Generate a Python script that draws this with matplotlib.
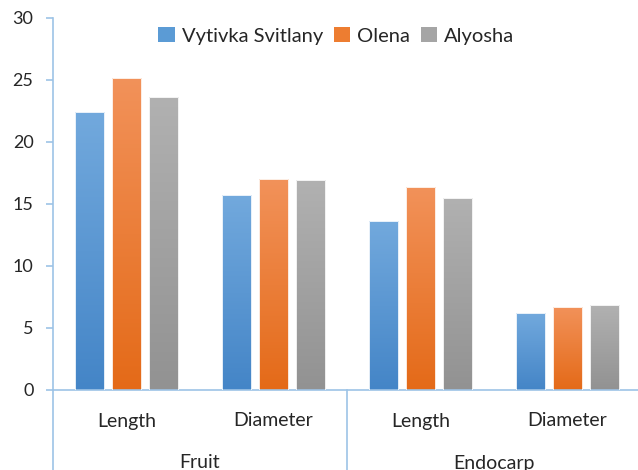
import numpy as np
import matplotlib.pyplot as plt
from matplotlib.colors import LinearSegmentedColormap
from matplotlib.lines import Line2D
from matplotlib.patches import Patch

# data
groups = ["Fruit", "Endocarp"]
measures = ["Length", "Diameter", "Length", "Diameter"]
series = ["Vytivka Svitlany", "Olena", "Alyosha"]
vytivka = [22.4, 15.7, 13.6, 6.2]
olena = [25.2, 17.0, 16.4, 6.7]
alyosha = [23.6, 16.9, 15.5, 6.85]

values = [vytivka, olena, alyosha]
grad = [("#4485C7", "#72A9DD"), ("#E46A18", "#F2925A"), ("#929292", "#B1B1B1")]
solid = ["#5B9BD5", "#ED7D31", "#A5A5A5"]
axis_col = "#9DC3E6"
text_col = "#262626"

plt.rcParams['font.family'] = ['Lato', 'DejaVu Sans']

fig = plt.figure(figsize=(6.38, 4.70), dpi=100)
ax = fig.add_axes([53 / 638, 80 / 470, 588 / 638, 372 / 470])

x = np.arange(len(measures))
width = 0.2
step = 0.25
grad_img = np.linspace(0, 1, 256).reshape(-1, 1)

for i, vals in enumerate(values):
    cmap = LinearSegmentedColormap.from_list("g%d" % i, grad[i])
    bars = ax.bar(x + (i - 1) * step, vals, width, color="none",
                  edgecolor="white", linewidth=0.6, zorder=3)
    for b in bars:
        x0, y0 = b.get_x(), b.get_y()
        im = ax.imshow(grad_img, cmap=cmap, origin="lower", aspect="auto",
                       extent=[x0, x0 + b.get_width(), y0, y0 + b.get_height()],
                       zorder=2)
        im.set_clip_path(b)

ax.set_xlim(-0.5, 3.5)
ax.set_ylim(0, 30)
ax.set_yticks(range(0, 31, 5))
ax.set_xticks([])

for s in ["top", "right"]:
    ax.spines[s].set_visible(False)
for s in ["left", "bottom"]:
    ax.spines[s].set_color(axis_col)
    ax.spines[s].set_linewidth(1.2)
ax.tick_params(axis="y", colors=axis_col, labelcolor=text_col, length=5,
               width=1.2, pad=9, labelsize=13)
for lbl in ax.get_yticklabels():
    lbl.set_verticalalignment("center_baseline")

# two level category labels
trans = ax.get_xaxis_transform()
for xi, m in zip(x, measures):
    ax.text(xi, -31 / 372, m, transform=trans, ha="center", va="center",
            fontsize=14, color=text_col)
for gi, g in enumerate(groups):
    ax.text(0.5 + 2 * gi, -73 / 372, g, transform=trans, ha="center",
            va="center", fontsize=14, color=text_col)
for xs in [-0.5, 1.5]:
    ax.add_line(Line2D([xs, xs], [0, -0.3], transform=trans, color=axis_col,
                       linewidth=1.2, clip_on=False))

handles = [Patch(facecolor=c, edgecolor="none") for c in solid]
ax.legend(handles, series, loc="upper center", bbox_to_anchor=(0.482, 1.025),
          ncol=3, frameon=False, fontsize=14.5, handlelength=0.8,
          handleheight=0.8, handletextpad=0.35, columnspacing=0.55,
          labelcolor=text_col)

fig.savefig("out.png", dpi=100)
